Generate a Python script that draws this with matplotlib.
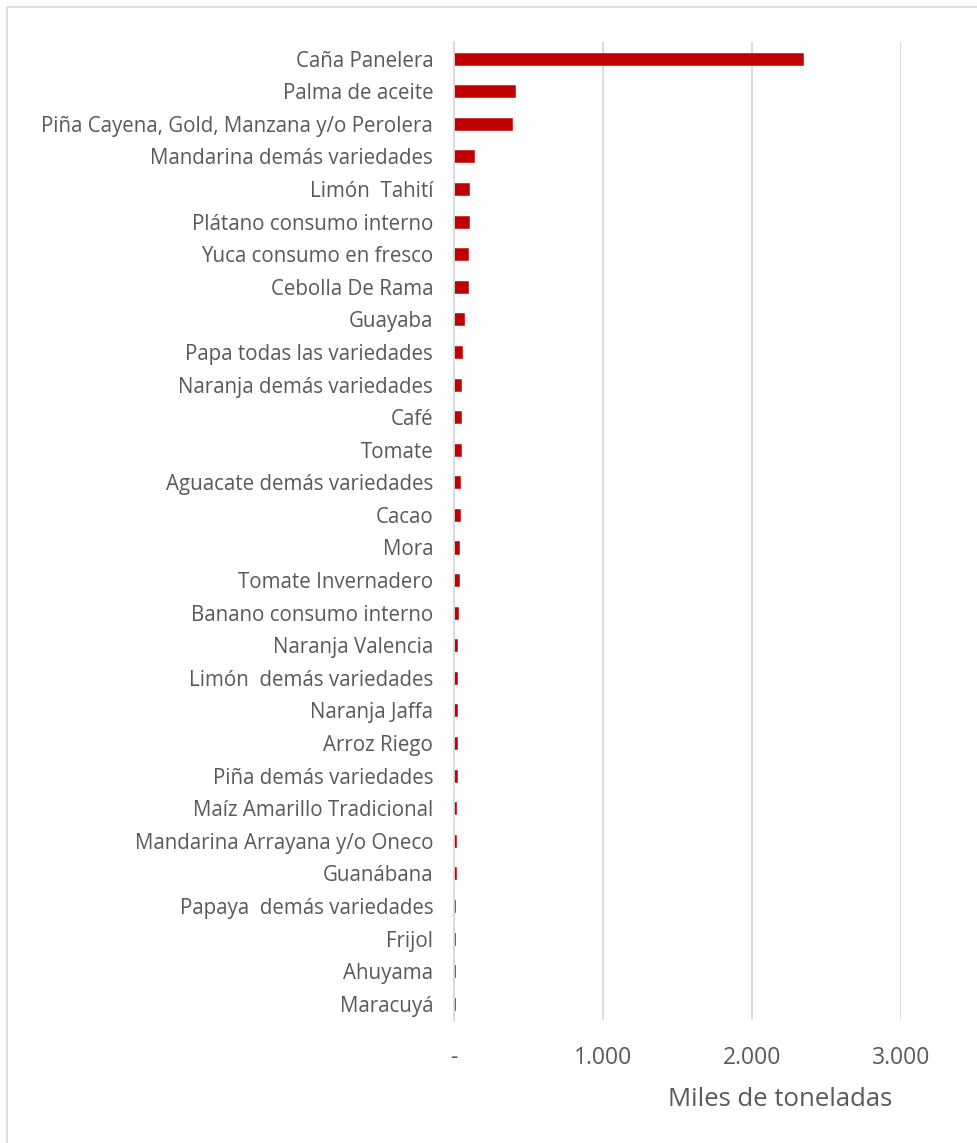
import matplotlib.pyplot as plt
from matplotlib.patches import Rectangle
from matplotlib.ticker import FuncFormatter

plt.rcParams['font.family'] = ['Open Sans', 'DejaVu Sans']

cultivos = ['Caña Panelera', 'Palma de aceite', 'Piña Cayena, Gold, Manzana y/o Perolera',
            'Mandarina demás variedades', 'Limón  Tahití', 'Plátano consumo interno',
            'Yuca consumo en fresco', 'Cebolla De Rama', 'Guayaba', 'Papa todas las variedades',
            'Naranja demás variedades', 'Café', 'Tomate', 'Aguacate demás variedades', 'Cacao',
            'Mora', 'Tomate Invernadero', 'Banano consumo interno', 'Naranja Valencia',
            'Limón  demás variedades', 'Naranja Jaffa', 'Arroz Riego', 'Piña demás variedades',
            'Maíz Amarillo Tradicional', 'Mandarina Arrayana y/o Oneco', 'Guanábana',
            'Papaya  demás variedades', 'Frijol', 'Ahuyama', 'Maracuyá']
produccion = [2339, 410, 388, 134, 102, 100, 92, 91, 65, 54,
              47, 45, 45, 40, 38, 36, 34, 25, 22, 20,
              18, 20, 19, 13, 12, 11, 10, 9, 7, 6]

gris = '#595959'
rojo = '#c00000'

fig = plt.figure(figsize=(9.78, 11.43), dpi=100)
fig.patches.append(Rectangle((7 / 978, -0.1), 1.2, 1 - 7 / 1143 + 0.1,
                             transform=fig.transFigure, fill=False,
                             edgecolor='#d9d9d9', linewidth=1.2))

ax = fig.add_axes([454 / 978, 123 / 1143, 447 / 978, 977.6 / 1143])
y = list(range(len(cultivos)))
ax.barh(y, produccion, height=0.37, color=rojo, edgecolor=rojo, linewidth=0.4)
ax.set_ylim(len(cultivos) - 0.5, -0.5)
ax.set_xlim(0, 3000)
ax.set_yticks(y)
ax.set_yticklabels(cultivos, fontsize=14.8, color=gris)
ax.set_xticks([0, 1000, 2000, 3000])
ax.xaxis.set_major_formatter(FuncFormatter(
    lambda v, p: '-' if v == 0 else f'{int(v):,}'.replace(',', '.')))
ax.tick_params(axis='x', labelsize=16.5, colors=gris, length=0, pad=19)
ax.tick_params(axis='y', length=0, pad=15)
ax.grid(axis='x', color='#d9d9d9', linewidth=1.3)
ax.set_axisbelow(True)
for s in ['top', 'right', 'bottom']:
    ax.spines[s].set_visible(False)
ax.spines['left'].set_color('#d9d9d9')
ax.spines['left'].set_linewidth(1.3)
ax.set_xlabel('Miles de toneladas', fontsize=18.5, color=gris, loc='right')
ax.xaxis.set_label_coords(1 - 9 / 447, -67 / 977.6)

fig.savefig('out.png', dpi=100, facecolor='white')
